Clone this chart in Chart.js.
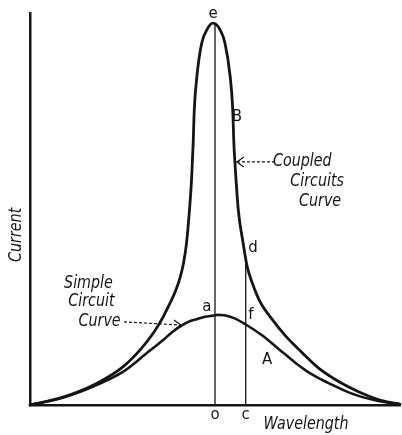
<!DOCTYPE html>
<html>
<head>
<meta charset="utf-8">
<script src="https://cdn.jsdelivr.net/npm/chart.js@4/dist/chart.umd.min.js"></script>
<style>
  html, body { margin: 0; padding: 0; background: #fff; }
  #wrap { width: 402px; height: 435px; }
</style>
</head>
<body>
<div id="wrap"><canvas id="chart" width="402" height="435"></canvas></div>
<script>
// Resonance curves (relative units, 0-100 on both axes)
const wavelengthCoupled = [0, 8.9, 18.0, 25.2, 29.7, 33.3, 36.0, 37.8, 39.3, 40.5, 41.5, 42.3, 43.1, 43.7, 44.1, 44.4, 45.1, 46.4, 47.8, 49.4,
                           51.4, 52.7, 54.1, 54.8, 55.1, 55.4, 56.3, 57.6, 58.7, 60.2, 62.2, 65.4, 69.0, 73.5, 78.0, 83.4, 88.8, 95.1, 100];
const currentCoupled    = [0, 2.0, 5.5, 9.8, 14.0, 18.3, 22.5, 25.9, 29.0, 32.3, 36.2, 41.3, 49.7, 58.2, 66.8, 75.3, 83.8, 92.3, 95.7, 97.4,
                           95.7, 92.3, 83.8, 75.3, 66.8, 61.7, 49.7, 41.3, 35.3, 30.8, 26.3, 21.9, 17.7, 13.4, 9.4, 6.0, 3.4, 1.1, 0.2];

const wavelengthSimple = [0, 9.0, 18.0, 25.2, 31.5, 36.0, 38.3, 40.5, 42.8, 45.1, 47.3, 49.5, 50.8, 52.5, 55.3, 58.2, 62.7, 67.2, 71.7, 76.2, 80.7, 87.0, 94.2, 100];
const currentSimple    = [0, 1.9, 5.1, 8.5, 13.2, 16.6, 18.5, 20.0, 21.2, 21.9, 22.5, 22.8, 23.0, 22.9, 22.1, 20.6, 17.8, 14.3, 10.8, 7.8, 5.6, 2.9, 1.0, 0.2];

// ordinates "o" (resonance) and "c" (off tune)
const markerLabels = ['o', 'c'];
const markerWavelength = [50.0, 58.3];
const markerTop = [97.4, 37.5];

const ink = '#151515';
const letterFont = '15px "DejaVu Sans", sans-serif';
const italicFont = 'italic 17px "DejaVu Sans", sans-serif';

function toPoints(xs, ys) {
    return xs.map((x, i) => ({ x, y: ys[i] }));
}

// ----------------------
// Labels, arrows and axis titles
// ----------------------
const sketchLabels = {
    id: 'sketchLabels',
    afterDatasetsDraw(chart) {
        const { ctx, scales: { x, y } } = chart;
        const at = (xd, yd) => [x.getPixelForValue(xd), y.getPixelForValue(yd)];

        // hand lettering is narrow, so squeeze the italic text a bit
        function text(str, xd, yd, font, squeeze, rot) {
            const [px, py] = at(xd, yd);
            ctx.save();
            ctx.font = font;
            ctx.fillStyle = ink;
            ctx.textAlign = 'center';
            ctx.textBaseline = 'middle';
            ctx.translate(px, py);
            if (rot) ctx.rotate(rot);
            if (squeeze) ctx.scale(squeeze, 1);
            ctx.fillText(str, 0, 0);
            ctx.restore();
        }

        function arrow(x1, y1, x2, y2, dir) {
            const [ax, ay] = at(x1, y1);
            const [bx, by] = at(x2, y2);
            ctx.save();
            ctx.strokeStyle = ink;
            ctx.lineWidth = 1.2;
            ctx.setLineDash([3, 2]);
            ctx.beginPath();
            ctx.moveTo(ax, ay);
            ctx.lineTo(bx, by);
            ctx.stroke();
            ctx.setLineDash([]);
            ctx.beginPath();
            ctx.moveTo(bx - dir * 7, by - 5);
            ctx.lineTo(bx, by);
            ctx.lineTo(bx - dir * 7, by + 5);
            ctx.stroke();
            ctx.restore();
        }

        text('e', 49.5, 99.6, letterFont);
        text('B', 55.9, 73.5, letterFont);
        text('d', 60.3, 40.1, letterFont);
        text('a', 47.8, 25.0, letterFont);
        text('f', 59.7, 23.0, letterFont);
        text('A', 64.1, 11.5, letterFont);

        markerLabels.forEach((lab, i) => text(lab, markerWavelength[i], -2.6, letterFont));

        const sq = 0.84;
        text('Coupled', 73.6, 62.0, italicFont, sq);
        text('Circuits', 77.6, 56.9, italicFont, sq);
        text('Curve', 78.4, 51.8, italicFont, sq);
        arrow(66.2, 62.0, 55.9, 62.0, -1);

        text('Simple', 15.8, 31.1, italicFont, sq);
        text('Circuit', 16.6, 26.3, italicFont, sq);
        text('Curve', 18.8, 21.2, italicFont, sq);
        arrow(25.4, 21.2, 40.8, 20.4, 1);

        text('Wavelength', 74.6, -5.1, italicFont, sq);
        text('Current', -3.5, 43.4, italicFont, sq, -Math.PI / 2);
    }
};

new Chart(document.getElementById('chart'), {
    type: 'line',
    data: {
        datasets: [
            { label: 'Coupled Circuits Curve', data: toPoints(wavelengthCoupled, currentCoupled), borderWidth: 2.8 },
            { label: 'Simple Circuit Curve', data: toPoints(wavelengthSimple, currentSimple), borderWidth: 2.6 },
            ...markerLabels.map((lab, i) => ({
                label: lab,
                data: [{ x: markerWavelength[i], y: 0 }, { x: markerWavelength[i], y: markerTop[i] }],
                borderWidth: 1.3
            }))
        ]
    },
    options: {
        responsive: false,
        animation: false,
        devicePixelRatio: 1,
        clip: false,
        layout: { padding: { left: 22, right: 2, top: 13, bottom: 22 } },
        elements: {
            line: { borderColor: ink, fill: false, cubicInterpolationMode: 'monotone', borderCapStyle: 'round', borderJoinStyle: 'round' },
            point: { radius: 0 }
        },
        plugins: { legend: { display: false }, tooltip: { enabled: false } },
        scales: {
            x: {
                type: 'linear', min: 0, max: 100,
                grid: { display: false },
                ticks: { display: false },
                border: { display: true, color: ink, width: 2.5 }
            },
            y: {
                min: 0, max: 100,
                grid: { display: false },
                ticks: { display: false },
                border: { display: true, color: ink, width: 2.5 }
            }
        }
    },
    plugins: [sketchLabels]
});
</script>
</body>
</html>
